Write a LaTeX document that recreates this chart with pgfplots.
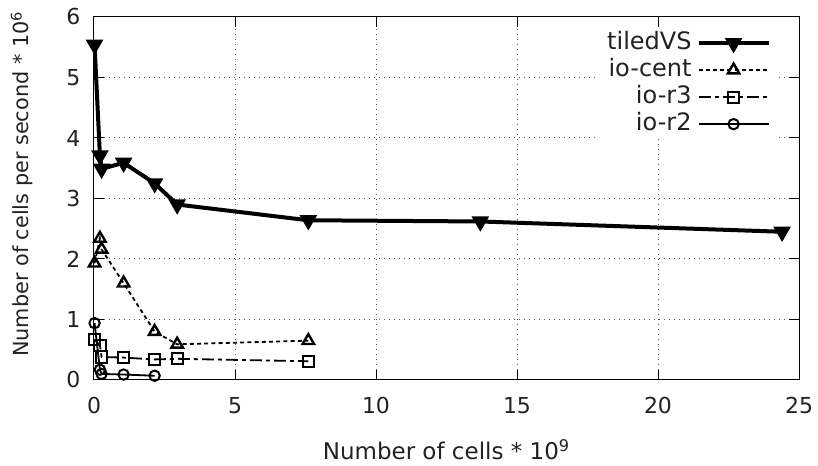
\documentclass[border=0pt]{standalone}
\usepackage{fontspec}
\setmainfont{DejaVu Sans}
\usepackage{pgfplots}
\pgfplotsset{compat=1.18}
\usetikzlibrary{calc}
\definecolor{txt}{RGB}{34,34,34}

\begin{document}
\begin{tikzpicture}[font=\fontsize{11}{13}\selectfont]
  \begin{axis}[
    scale only axis,
    width=352.5pt, height=181.5pt,
    xmin=0, xmax=25, ymin=0, ymax=6,
    xtick={0,5,10,15,20,25},
    ytick={0,1,2,3,4,5,6},
    /pgf/number format/assume math mode=true,
    tick label style={color=txt},
    xticklabel style={yshift=-5pt},
    yticklabel style={xshift=-3.3pt},
    tick align=inside,
    major tick length=5pt,
    axis line style={line width=0.5pt},
    every tick/.style={black, line width=0.5pt},
    grid=major,
    major grid style={black!65, line width=0.5pt, dash pattern=on 0.6pt off 1.9pt},
    xlabel={Number of cells * 10\textsuperscript{9}},
    ylabel={Number of cells per second * 10\textsuperscript{6}},
    xlabel style={at={(axis description cs:0.5,0)}, anchor=base, yshift=-40pt,
                  color=txt, font=\fontsize{11.5}{13}\selectfont},
    ylabel style={at={($(axis description cs:0,0.54)+(-32.5pt,0)$)}, anchor=base,
                  color=txt, font=\fontsize{10.4}{12}\selectfont},
    legend cell align=right,
    legend plot pos=right,
    legend style={
      at={(axis description cs:0.9716,0.969)}, anchor=north east,
      fill=white, draw=none, inner xsep=4pt, inner ysep=1pt,
      row sep=1pt,
      font=\fontsize{12}{14}\selectfont,
      nodes={inner sep=0.5pt, text height=9pt, text depth=2.5pt, color=txt},
    },
    legend image code/.code={
      \path (-2pt,0pt);
      \draw[mark repeat=2, mark phase=2]
        plot coordinates {(0pt,0pt) (17.5pt,0pt) (35pt,0pt)};
    },
  ]
    % tiledVS
    \addplot[black, line width=2pt, mark=triangle*, mark size=4.3pt,
             mark options={solid, rotate=180, line width=0.8pt}]
      coordinates {(0.02,5.54) (0.21,3.71) (0.27,3.49) (1.05,3.59) (2.15,3.25)
                   (2.95,2.90) (7.6,2.64) (13.7,2.62) (24.4,2.45)};
    \addlegendentry{tiledVS}
    % io-cent
    \addplot[black, line width=0.9pt, dash pattern=on 2pt off 1.6pt, mark=triangle,
             mark size=3.3pt, mark options={solid, line width=1.2pt}]
      coordinates {(0.02,1.93) (0.21,2.34) (0.27,2.16) (1.05,1.60) (2.15,0.80)
                   (2.95,0.59) (7.6,0.65)};
    \addlegendentry{io-cent}
    % io-r3
    \addplot[black, line width=0.9pt, dash pattern=on 6pt off 2pt on 2pt off 2pt,
             mark=square, mark size=2.8pt, mark options={solid, line width=1pt}]
      coordinates {(0.02,0.67) (0.21,0.57) (0.27,0.38) (1.05,0.37) (2.15,0.34)
                   (2.95,0.35) (7.6,0.31)};
    \addlegendentry{io-r3}
    % io-r2
    \addplot[black, line width=0.9pt, mark=o, mark size=2.6pt,
             mark options={solid, line width=1pt}]
      coordinates {(0.02,0.94) (0.21,0.17) (0.27,0.10) (1.05,0.09) (2.15,0.07)};
    \addlegendentry{io-r2}
  \end{axis}
  \pgfresetboundingbox
  \useasboundingbox ($(current axis.south west)+(-47pt,-43pt)$)
                    rectangle ($(current axis.north east)+(9.5pt,8.5pt)$);
\end{tikzpicture}
\end{document}
